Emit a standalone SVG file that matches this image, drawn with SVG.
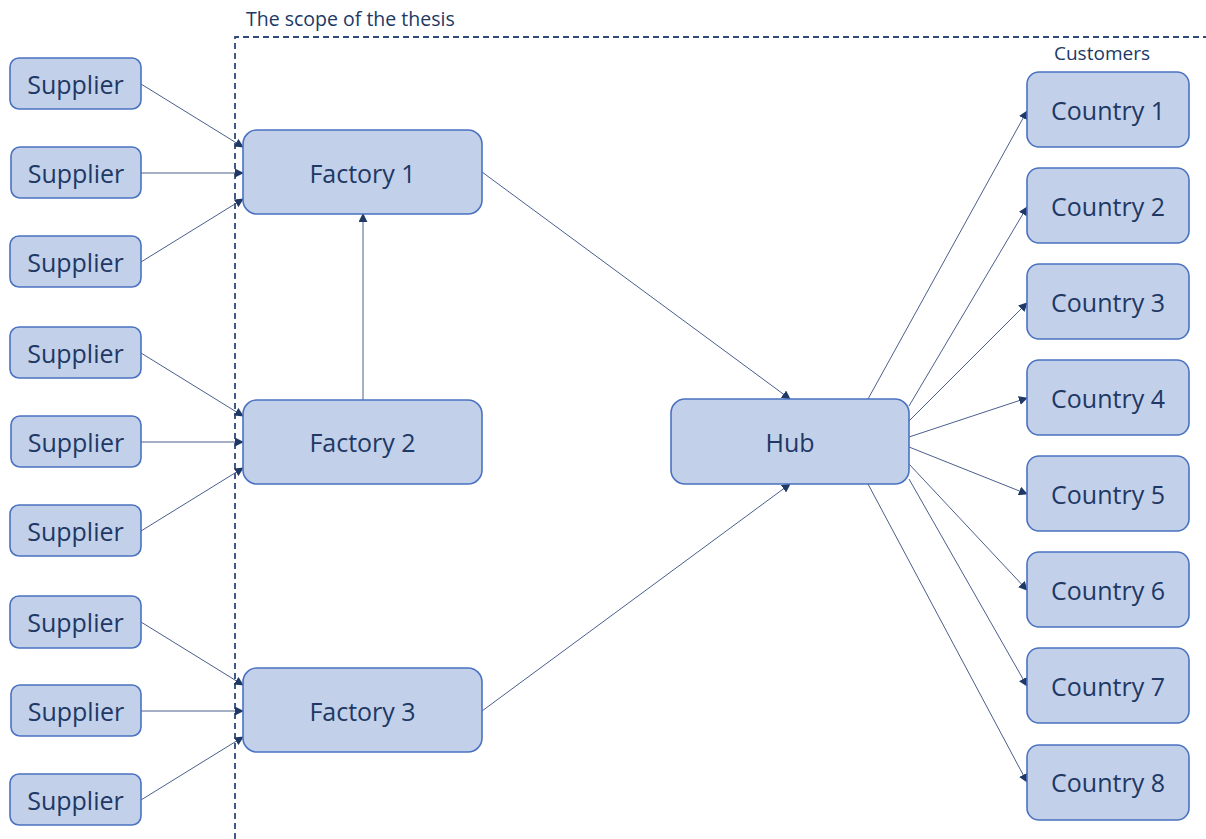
<svg xmlns="http://www.w3.org/2000/svg" width="1206" height="839" viewBox="0 0 1206 839">
  <style>
    .box { fill: #C3D0EA; stroke: #4A72C0; stroke-width: 1.6; }
    .lbl { font-family: "Open Sans", "Liberation Sans", sans-serif; font-size: 25px; fill: #203864; text-anchor: middle; dominant-baseline: central; }
    .cap { font-family: "Open Sans", "Liberation Sans", sans-serif; font-size: 19.5px; fill: #203864; }
    .edge { stroke: #4A5F8C; stroke-width: 1; fill: none; marker-end: url(#arr); }
    .scope { stroke: #2F4A7A; stroke-width: 1.8; stroke-dasharray: 6 4; fill: none; }
  </style>
  <defs>
    <marker id="arr" viewBox="0 0 10 10" refX="9" refY="5" markerWidth="9" markerHeight="9" markerUnits="userSpaceOnUse" orient="auto">
      <path d="M0,0 L10,5 L0,10 z" fill="#203864"/>
    </marker>
  </defs>
  <rect width="1206" height="839" fill="#FFFFFF"/>

  <!-- scope boundary -->
  <path class="scope" d="M235,839 V37 H1206"/>
  <text class="cap" x="246" y="26">The scope of the thesis</text>
  <text class="cap" x="1054" y="60" style="font-size:19px">Customers</text>

  <!-- connectors -->
  <g id="connectors">
    <line class="edge" x1="141" y1="84" x2="243" y2="147"/>
    <line class="edge" x1="141" y1="173" x2="243" y2="173"/>
    <line class="edge" x1="141" y1="262" x2="243" y2="199"/>
    <line class="edge" x1="141" y1="353" x2="243" y2="416"/>
    <line class="edge" x1="141" y1="442" x2="243" y2="442"/>
    <line class="edge" x1="141" y1="531" x2="243" y2="468"/>
    <line class="edge" x1="141" y1="622" x2="243" y2="685"/>
    <line class="edge" x1="141" y1="711" x2="243" y2="711"/>
    <line class="edge" x1="141" y1="800" x2="243" y2="737"/>
    <line class="edge" x1="363" y1="400" x2="363" y2="214"/>
    <line class="edge" x1="482" y1="172" x2="790" y2="399"/>
    <line class="edge" x1="482" y1="711" x2="790" y2="484"/>
    <line class="edge" x1="868" y1="399" x2="1027" y2="111"/>
    <line class="edge" x1="909" y1="406" x2="1027" y2="207"/>
    <line class="edge" x1="909" y1="421" x2="1027" y2="303"/>
    <line class="edge" x1="909" y1="437" x2="1027" y2="398"/>
    <line class="edge" x1="909" y1="447" x2="1027" y2="494"/>
    <line class="edge" x1="909" y1="464" x2="1027" y2="590"/>
    <line class="edge" x1="909" y1="479" x2="1027" y2="686"/>
    <line class="edge" x1="868" y1="484" x2="1027" y2="782"/>
  </g>

  <!-- suppliers -->
  <g id="supplier1"><rect class="box" x="10" y="58" width="131" height="51" rx="9"/><text class="lbl" x="75.5" y="84">Supplier</text></g>
  <g id="supplier2"><rect class="box" x="11" y="147" width="130" height="51" rx="9"/><text class="lbl" x="76" y="173">Supplier</text></g>
  <g id="supplier3"><rect class="box" x="10" y="236" width="131" height="51" rx="9"/><text class="lbl" x="75.5" y="262">Supplier</text></g>
  <g id="supplier4"><rect class="box" x="10" y="327" width="131" height="51" rx="9"/><text class="lbl" x="75.5" y="353">Supplier</text></g>
  <g id="supplier5"><rect class="box" x="11" y="416" width="130" height="51" rx="9"/><text class="lbl" x="76" y="442">Supplier</text></g>
  <g id="supplier6"><rect class="box" x="10" y="505" width="131" height="51" rx="9"/><text class="lbl" x="75.5" y="531">Supplier</text></g>
  <g id="supplier7"><rect class="box" x="10" y="596" width="131" height="52" rx="9"/><text class="lbl" x="75.5" y="622">Supplier</text></g>
  <g id="supplier8"><rect class="box" x="11" y="685" width="130" height="51" rx="9"/><text class="lbl" x="76" y="711">Supplier</text></g>
  <g id="supplier9"><rect class="box" x="10" y="774" width="131" height="51" rx="9"/><text class="lbl" x="75.5" y="800">Supplier</text></g>

  <!-- factories -->
  <g id="factory1"><rect class="box" x="243" y="130" width="239" height="84" rx="14"/><text class="lbl" x="362.5" y="173">Factory 1</text></g>
  <g id="factory2"><rect class="box" x="243" y="400" width="239" height="84" rx="14"/><text class="lbl" x="362.5" y="442">Factory 2</text></g>
  <g id="factory3"><rect class="box" x="243" y="668" width="239" height="84" rx="14"/><text class="lbl" x="362.5" y="711">Factory 3</text></g>

  <!-- hub -->
  <g id="hub"><rect class="box" x="671" y="399" width="238" height="85" rx="14"/><text class="lbl" x="790" y="442">Hub</text></g>

  <!-- customer countries -->
  <g id="country1"><rect class="box" x="1027" y="72" width="162" height="75" rx="12"/><text class="lbl" x="1108" y="110">Country 1</text></g>
  <g id="country2"><rect class="box" x="1027" y="168" width="162" height="75" rx="12"/><text class="lbl" x="1108" y="206">Country 2</text></g>
  <g id="country3"><rect class="box" x="1027" y="264" width="162" height="75" rx="12"/><text class="lbl" x="1108" y="302">Country 3</text></g>
  <g id="country4"><rect class="box" x="1027" y="360" width="162" height="75" rx="12"/><text class="lbl" x="1108" y="398">Country 4</text></g>
  <g id="country5"><rect class="box" x="1027" y="456" width="162" height="75" rx="12"/><text class="lbl" x="1108" y="494">Country 5</text></g>
  <g id="country6"><rect class="box" x="1027" y="552" width="162" height="75" rx="12"/><text class="lbl" x="1108" y="590">Country 6</text></g>
  <g id="country7"><rect class="box" x="1027" y="648" width="162" height="75" rx="12"/><text class="lbl" x="1108" y="686">Country 7</text></g>
  <g id="country8"><rect class="box" x="1027" y="745" width="162" height="75" rx="12"/><text class="lbl" x="1108" y="782">Country 8</text></g>
</svg>
